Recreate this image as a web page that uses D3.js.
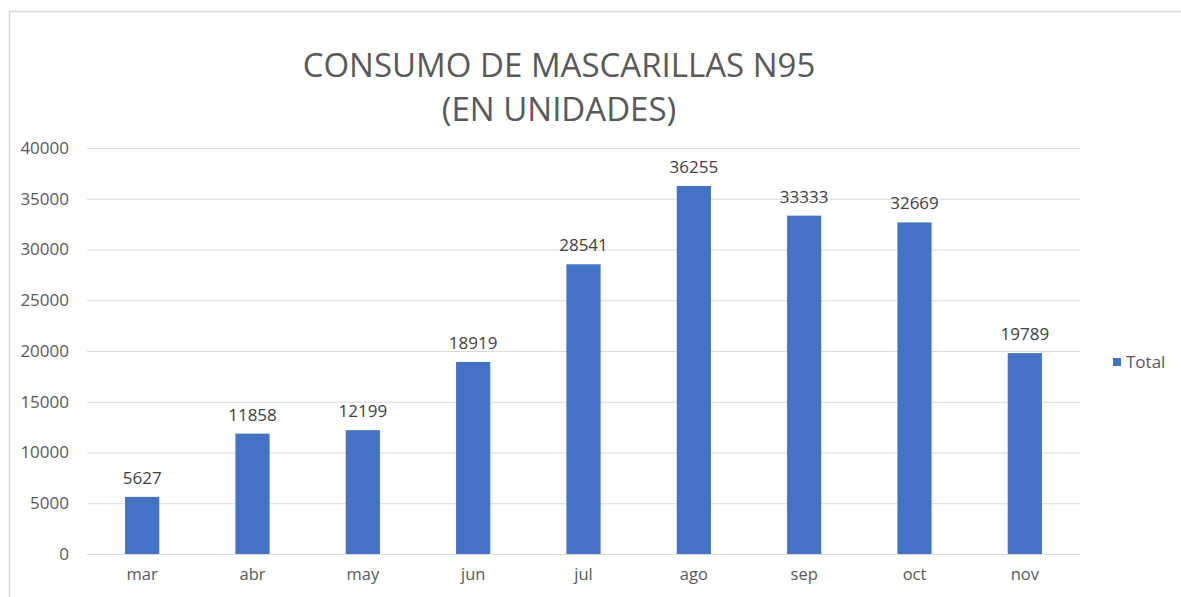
<!DOCTYPE html>
<html>
<head>
<meta charset="utf-8">
<script src="https://cdn.jsdelivr.net/npm/d3@7"></script>
<style>
  body { margin: 0; background: #fff; }
  svg { display: block; font-family: 'Open Sans', 'Liberation Sans', Arial, sans-serif; }
</style>
</head>
<body>
<div id="graph"></div>
<script>
const months = ['mar','abr','may','jun','jul','ago','sep','oct','nov'];
const totals = [5627, 11858, 12199, 18919, 28541, 36255, 33333, 32669, 19789];
const yTicks = [0, 5000, 10000, 15000, 20000, 25000, 30000, 35000, 40000];
const titleLines = ['CONSUMO DE MASCARILLAS N95', '(EN UNIDADES)'];
const seriesName = 'Total';

const w = 1181;
const h = 597;
const barColor = '#4472c4';
const textColor = '#595959';

const svg = d3.select('#graph')
  .append('svg')
  .attr('width', w)
  .attr('height', h);

// chart frame
svg.append('rect')
  .attr('x', 9.5).attr('y', 11.5)
  .attr('width', w + 10).attr('height', h + 10)
  .attr('fill', '#fff')
  .attr('stroke', '#d9d9d9')
  .attr('stroke-width', 1.5);

const xScale = d3.scaleBand().domain(months).range([87, 1080]).paddingInner(0.69).paddingOuter(0.345);
const yScale = d3.scaleLinear().domain([0, 40000]).range([554, 148]);

// gridlines
svg.append('g')
  .selectAll('line')
  .data(yTicks)
  .enter()
  .append('line')
  .attr('x1', 87).attr('x2', 1080)
  .attr('y1', d => yScale(d) + 0.5)
  .attr('y2', d => yScale(d) + 0.5)
  .attr('stroke', '#d9d9d9')
  .attr('stroke-width', 1);

const yAxis = d3.axisLeft(yScale).tickValues(yTicks).tickFormat(d3.format('d')).tickSize(0).tickPadding(0);
const gy = svg.append('g')
  .attr('transform', 'translate(69,0)')
  .call(yAxis);
gy.select('.domain').remove();
gy.selectAll('text')
  .attr('fill', textColor)
  .style('font-family', "'Open Sans', sans-serif")
  .style('font-size', '17px');

const xAxis = d3.axisBottom(xScale).tickSize(0).tickPadding(0);
const gx = svg.append('g')
  .attr('transform', 'translate(0,568)')
  .call(xAxis);
gx.select('.domain').remove();
gx.selectAll('text')
  .attr('fill', textColor)
  .style('font-family', "'Open Sans', sans-serif")
  .style('font-size', '16.5px');

svg.selectAll('.bar')
  .data(totals)
  .enter()
  .append('rect')
  .attr('class', 'bar')
  .attr('x', (d, i) => xScale(months[i]))
  .attr('y', d => yScale(d))
  .attr('width', xScale.bandwidth())
  .attr('height', d => yScale(0) - yScale(d))
  .attr('fill', barColor);

svg.selectAll('.lbl')
  .data(totals)
  .enter()
  .append('text')
  .attr('class', 'lbl')
  .attr('x', (d, i) => xScale(months[i]) + xScale.bandwidth() / 2)
  .attr('y', d => yScale(d) - 13)
  .attr('text-anchor', 'middle')
  .attr('fill', '#404040')
  .style('font-size', '17px')
  .text(d => d);

svg.selectAll('.title')
  .data(titleLines)
  .enter()
  .append('text')
  .attr('class', 'title')
  .attr('x', 559)
  .attr('y', (d, i) => 77 + i * 44)
  .attr('text-anchor', 'middle')
  .attr('fill', textColor)
  .style('font-size', '33px')
  .text(d => d);

const legend = svg.append('g').attr('transform', 'translate(1113,358)');
legend.append('rect')
  .attr('width', 8).attr('height', 8)
  .attr('fill', barColor);
legend.append('text')
  .attr('x', 13).attr('y', 10)
  .attr('fill', textColor)
  .style('font-size', '17px')
  .text(seriesName);
</script>
</body>
</html>
